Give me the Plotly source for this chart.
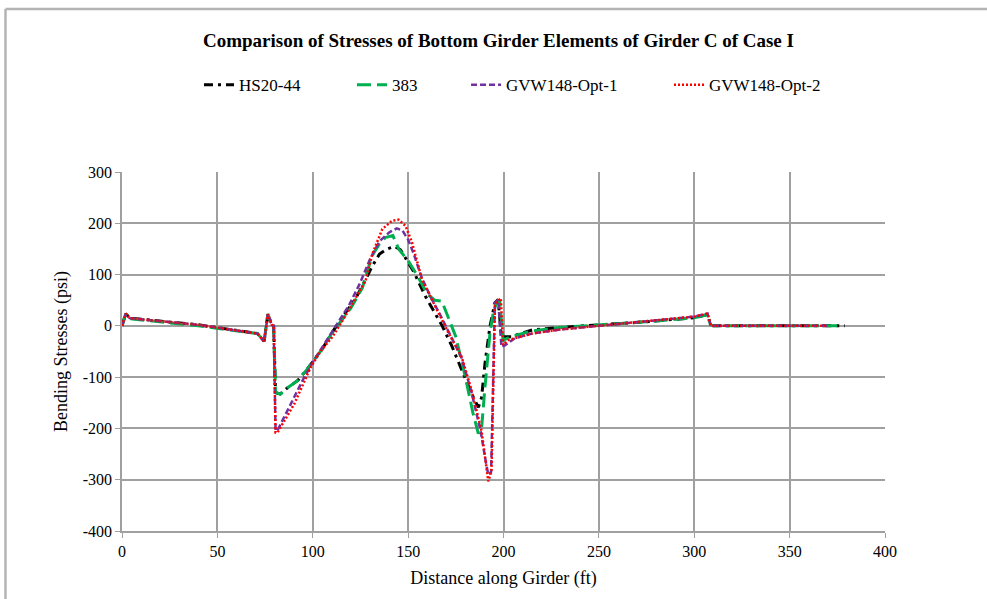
import plotly.graph_objects as go

# ---- Data ----
hs_x = [0, 2, 4, 40, 71, 74.5, 76.5, 78.5, 79.5, 80.5, 83, 87, 92, 97, 105, 110, 116, 122, 127, 131,
        135, 139, 143, 146, 149, 153, 159, 164, 168, 173, 178, 183, 186.8, 188.5, 190.3, 192.9, 195.5,
        197.2, 198.9, 204, 215, 230, 250, 275, 300, 307, 308.5, 310, 340, 379]
hs_y = [0, 24, 15, 2, -15, -30, 23, 2, 0, -130, -133, -120, -107, -85, -45, -14, 20, 50, 85, 115,
        140, 150, 155, 148, 130, 105, 58, 25, -1, -40, -87, -130, -159, -140, -73, -1, 45,
        51, -21, -21, -8, -3, 2, 8, 16, 22, 2, 0, 0, 0]

g383_x = [0, 2, 4, 40, 71, 74.5, 76.5, 78.5, 79.5, 80.5, 83, 87, 92, 97, 105, 110, 115, 120, 126, 131,
          135, 138, 142, 145, 150, 155, 160, 164, 167.7, 171, 175, 180, 184, 186.8, 188.5, 190.3, 192.9,
          194.6, 196.3, 198, 199.8, 204, 215, 230, 250, 275, 300, 307, 308.5, 310, 340, 375]
g383_y = [0, 24, 14, 0, -15, -30, 23, 2, 0, -130, -133, -120, -107, -85, -45, -14, 10, 35, 74, 136,
          160, 172, 176, 150, 127, 97, 62, 50, 48, 18, -21, -100, -170, -210, -200, -119, -14,
          25, 45, 47, -28, -21, -10, -3, 2, 8, 16, 22, 2, 0, 0, 0]

opt1_x = [0, 2, 4, 40, 71, 74.5, 76.5, 78.5, 79.5, 80.5, 81.5, 88.4, 95.4, 101, 107, 113, 119, 125, 130,
          135, 140, 144, 147, 150, 153, 157, 162, 167, 172, 178, 183, 188, 190.5, 192, 193.5, 195.5,
          197.2, 198.9, 200.7, 206, 215, 230, 250, 280, 300, 307, 308.7, 310, 340, 370]
opt1_y = [0, 24, 15, 2, -15, -30, 23, 2, 0, -204, -204, -153, -101, -65, -30, 5, 40, 85, 130,
          165, 182, 190, 186, 168, 140, 95, 55, 20, -18, -62, -126, -205, -260, -290, -285, 45,
          51, -41, -38, -24, -15, -7, 0, 10, 18, 24, 0, 0, 0, 0]

opt2_x = [0, 2, 4, 40, 71, 74.5, 76.5, 78.5, 79.5, 80.5, 81.5, 90.2, 98.9, 104, 110.4, 119, 127.8, 131.2,
          136.5, 141.7, 145, 148.6, 152, 157.3, 162.5, 171.2, 178, 183.3, 188.5, 192, 193.7, 195.5,
          197.5, 198.6, 199.8, 202.5, 206, 215, 230, 250, 280, 300, 307, 308.7, 310, 340, 370]
opt2_y = [0, 24, 15, 2, -15, -30, 23, 2, 0, -208, -208, -153, -81, -50, -21, 31, 90, 140,
          189, 205, 207, 195, 163, 90, 51, -14, -60, -126, -205, -303, -283, 40,
          50, 54, -37, -28, -24, -15, -7, 0, 10, 18, 24, 0, 0, 0, 0]

names = ["HS20-44", "383", "GVW148-Opt-1", "GVW148-Opt-2"]
x_ticks = [0, 50, 100, 150, 200, 250, 300, 350, 400]
y_ticks = [-400, -300, -200, -100, 0, 100, 200, 300]

FONT = "Liberation Serif"

fig = go.Figure()
fig.add_trace(go.Scatter(x=hs_x, y=hs_y, name=names[0], mode="lines", legend="legend",
                         line=dict(color="#000000", width=3, dash="9px,5px,3px,5px")))
fig.add_trace(go.Scatter(x=g383_x, y=g383_y, name=names[1], mode="lines", legend="legend2",
                         line=dict(color="#00b050", width=3, dash="14px,6px")))
fig.add_trace(go.Scatter(x=opt1_x, y=opt1_y, name=names[2], mode="lines", legend="legend3",
                         line=dict(color="#7030a0", width=2.5, dash="6px,3px")))
fig.add_trace(go.Scatter(x=opt2_x, y=opt2_y, name=names[3], mode="lines", legend="legend4",
                         line=dict(color="#ff0000", width=2.5, dash="2px,2px")))

def leg(xp):
    return dict(x=xp, xanchor="left", y=1.242, yanchor="middle", orientation="h",
                font=dict(family=FONT, size=17, color="#000000"), bgcolor="rgba(0,0,0,0)")

fig.update_layout(
    width=987, height=599,
    margin=dict(l=122, r=102, t=172, b=68),
    paper_bgcolor="white", plot_bgcolor="white",
    font=dict(family=FONT, size=16, color="#000000"),
    title=dict(text="<b>Comparison of Stresses of Bottom Girder Elements of Girder C of Case I</b>",
               x=0.505, xref="container", xanchor="center", y=0.943, yref="container",
               font=dict(family=FONT, size=19, color="#000000")),
    legend=leg(0.1009), legend2=leg(0.3014), legend3=leg(0.4509), legend4=leg(0.7169),
    showlegend=True,
)

fig.update_xaxes(range=[0, 400], tickvals=x_ticks, ticktext=[str(v) for v in x_ticks],
                 showgrid=True, gridcolor="#a0a0a0", gridwidth=1.5,
                 showline=True, linecolor="#a0a0a0", linewidth=1.5, zeroline=False,
                 ticks="outside", ticklen=5, tickcolor="#a0a0a0",
                 title=dict(text="Distance along Girder (ft)", font=dict(family=FONT, size=18), standoff=12),
                 tickfont=dict(family=FONT, size=16))
fig.update_yaxes(range=[-400, 300], tickvals=y_ticks, ticktext=[str(v) for v in y_ticks],
                 showgrid=True, gridcolor="#a0a0a0", gridwidth=1.5,
                 showline=True, linecolor="#a0a0a0", linewidth=1.5, zeroline=False,
                 ticks="outside", ticklen=5, tickcolor="#a0a0a0",
                 title=dict(text="Bending Stresses (psi)", font=dict(family=FONT, size=18), standoff=10),
                 tickfont=dict(family=FONT, size=16))

# outer chart frame (visible on top and left in the reference)
fig.add_shape(type="line", xref="paper", yref="paper", x0=-0.1527, x1=-0.1527, y0=-0.3, y1=1.454,
              line=dict(color="#b4b4b4", width=2.5))
fig.add_shape(type="line", xref="paper", yref="paper", x0=-0.1527, x1=1.2, y0=1.454, y1=1.454,
              line=dict(color="#b4b4b4", width=2.5))

fig.write_html("out.html")
